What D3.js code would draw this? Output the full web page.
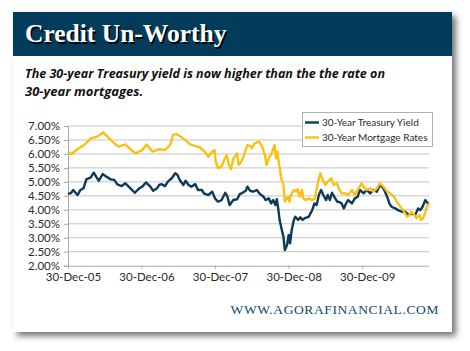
<!DOCTYPE html>
<html>
<head>
<meta charset="utf-8">
<script src="https://cdn.jsdelivr.net/npm/d3@7"></script>
<style>
  body { margin: 0; background: #fff; }
  svg { display: block; }
</style>
</head>
<body>
<div id="chartContainer"></div>
<script>
// chart values
const treasuryDates = ["2005-12-30","2006-01-14","2006-01-25","2006-02-15","2006-03-02","2006-03-17","2006-03-31","2006-04-22","2006-05-07","2006-05-21","2006-06-01","2006-06-20","2006-07-04","2006-07-30","2006-08-17","2006-09-01","2006-09-23","2006-10-11","2006-11-05","2006-11-27","2006-12-19","2007-01-03","2007-01-21","2007-02-12","2007-02-26","2007-03-17","2007-03-28","2007-04-08","2007-04-26","2007-05-10","2007-05-29","2007-06-16","2007-06-27","2007-07-08","2007-07-26","2007-08-06","2007-08-21","2007-09-04","2007-09-23","2007-10-07","2007-10-26","2007-11-05","2007-11-27","2007-12-16","2007-12-30","2008-01-14","2008-02-01","2008-02-19","2008-03-01","2008-03-12","2008-03-30","2008-04-18","2008-05-02","2008-05-13","2008-05-31","2008-06-08","2008-06-22","2008-07-07","2008-07-25","2008-08-09","2008-08-27","2008-09-07","2008-09-22","2008-10-04","2008-10-14","2008-10-25","2008-11-01","2008-11-08","2008-11-15","2008-11-26","2008-12-04","2008-12-11","2008-12-22","2008-12-30","2009-01-06","2009-01-14","2009-01-25","2009-02-01","2009-02-15","2009-02-26","2009-03-09","2009-03-20","2009-04-08","2009-04-26","2009-05-07","2009-05-18","2009-05-29","2009-06-09","2009-06-20","2009-07-04","2009-07-12","2009-07-23","2009-08-02","2009-08-13","2009-08-28","2009-09-04","2009-09-19","2009-09-30","2009-10-11","2009-10-22","2009-11-09","2009-11-24","2009-12-08","2009-12-19","2010-01-06","2010-01-21","2010-02-08","2010-02-23","2010-03-13","2010-03-28","2010-04-15","2010-05-03","2010-05-14","2010-05-25","2010-06-12","2010-06-27","2010-07-15","2010-08-02","2010-08-17","2010-09-01","2010-09-19","2010-10-04","2010-10-15","2010-10-26","2010-11-09","2010-11-20","2010-11-27"];
const treasuryYield = [4.57,4.60,4.71,4.53,4.71,4.77,5.09,5.16,5.33,5.16,5.04,5.28,5.21,5.09,5.07,4.91,4.85,4.95,4.77,4.61,4.77,4.83,4.98,4.83,4.68,4.77,4.89,4.92,4.85,5.01,5.13,5.31,5.25,5.07,4.89,5.04,4.89,4.83,4.92,4.71,4.71,4.59,4.53,4.65,4.41,4.29,4.35,4.61,4.47,4.17,4.35,4.38,4.57,4.60,4.68,4.83,4.68,4.65,4.71,4.57,4.47,4.35,4.41,4.23,4.35,4.17,4.38,4.05,3.64,3.28,3.04,2.56,2.74,3.10,2.80,3.28,3.64,3.75,3.64,3.73,3.64,3.70,3.75,3.99,4.23,4.17,4.53,4.71,4.53,4.35,4.53,4.35,4.61,4.47,4.29,4.29,4.23,4.05,4.23,4.35,4.23,4.41,4.47,4.71,4.59,4.71,4.59,4.71,4.65,4.89,4.77,4.47,4.23,4.11,4.05,3.99,3.93,3.93,3.81,3.87,3.81,4.05,3.99,4.11,4.35,4.23,4.25];

const mortgageDates = ["2005-12-30","2006-01-14","2006-02-15","2006-03-20","2006-04-22","2006-05-25","2006-06-23","2006-07-23","2006-08-17","2006-09-08","2006-10-11","2006-11-05","2006-12-01","2007-01-03","2007-01-25","2007-02-23","2007-03-28","2007-04-26","2007-05-21","2007-06-05","2007-06-23","2007-07-08","2007-08-02","2007-08-28","2007-09-23","2007-10-18","2007-11-09","2007-11-27","2007-12-16","2007-12-27","2008-01-03","2008-01-14","2008-02-01","2008-02-15","2008-02-26","2008-03-08","2008-03-19","2008-03-30","2008-04-18","2008-04-25","2008-05-06","2008-05-20","2008-05-28","2008-06-08","2008-06-22","2008-06-30","2008-07-14","2008-08-05","2008-08-20","2008-09-03","2008-09-11","2008-09-22","2008-10-06","2008-10-21","2008-10-28","2008-11-04","2008-11-12","2008-11-23","2008-12-04","2008-12-11","2008-12-26","2009-01-03","2009-01-10","2009-01-25","2009-02-05","2009-02-12","2009-02-23","2009-03-06","2009-03-13","2009-03-24","2009-04-08","2009-04-26","2009-05-10","2009-05-25","2009-06-05","2009-06-16","2009-07-01","2009-07-12","2009-07-30","2009-08-10","2009-08-28","2009-09-04","2009-09-19","2009-10-07","2009-10-22","2009-11-09","2009-11-24","2009-12-12","2009-12-27","2010-01-06","2010-01-21","2010-02-08","2010-02-23","2010-03-13","2010-03-28","2010-04-15","2010-05-03","2010-05-18","2010-06-05","2010-06-20","2010-07-08","2010-07-22","2010-08-10","2010-08-21","2010-09-01","2010-09-15","2010-09-26","2010-10-11","2010-10-18","2010-10-29","2010-11-09","2010-11-16","2010-11-27"];
const mortgageRate = [6.08,5.99,6.17,6.32,6.56,6.62,6.77,6.56,6.38,6.26,6.34,6.17,6.02,6.14,6.34,6.08,6.17,6.14,6.32,6.68,6.71,6.64,6.52,6.34,6.28,6.23,6.08,5.90,6.08,6.14,5.72,5.49,5.55,5.81,5.96,5.61,5.45,5.84,6.02,5.61,5.69,5.90,6.08,6.32,6.28,6.20,6.38,6.44,6.26,5.96,5.60,5.84,6.02,6.32,5.84,6.08,5.66,5.13,4.89,4.29,4.47,4.29,4.53,4.71,4.65,4.74,4.47,4.71,4.41,4.35,4.41,4.35,4.41,5.01,5.31,5.09,4.89,5.01,5.13,4.89,4.95,4.77,4.59,4.59,4.53,4.71,4.53,4.77,4.95,4.83,4.71,4.77,4.65,4.77,4.95,4.83,4.65,4.59,4.47,4.29,4.11,3.99,3.75,3.81,3.93,3.81,3.70,3.81,3.64,3.70,3.93,4.11,4.23];

const yTicks = [2, 2.5, 3, 3.5, 4, 4.5, 5, 5.5, 6, 6.5, 7];
const xTicks = ["2005-12-30", "2006-12-30", "2007-12-30", "2008-12-30", "2009-12-30"];
const seriesNames = ["30-Year Treasury Yield", "30-Year Mortgage Rates"];
const seriesColors = ["#0c3b59", "#fcc012"];

const parseDate = d3.timeParse("%Y-%m-%d");
const fmtDate = d3.timeFormat("%d-%b-%y");

const svg = d3.select("#chartContainer").append("svg")
    .attr("width", 470)
    .attr("height", 351);

// card shadow
const defs = svg.append("defs");
const shadow = defs.append("filter").attr("id", "cardShadow")
    .attr("x", "-5%").attr("y", "-5%").attr("width", "115%").attr("height", "115%");
shadow.append("feDropShadow")
    .attr("dx", 4).attr("dy", 4).attr("stdDeviation", 3)
    .attr("flood-color", "#000").attr("flood-opacity", 0.55);

svg.append("rect")
    .attr("x", 13).attr("y", 12).attr("width", 439).attr("height", 320)
    .attr("fill", "#fff")
    .attr("filter", "url(#cardShadow)");

svg.append("rect")
    .attr("x", 13).attr("y", 12).attr("width", 439).attr("height", 44)
    .attr("fill", "#033c5b");

// title with a dark drop shadow
const titleStyle = sel => sel
    .attr("font-family", "'Liberation Serif', serif")
    .attr("font-weight", "bold")
    .attr("font-size", 25.5)
    .text("Credit Un-Worthy");
svg.append("text").attr("x", 26.5).attr("y", 43.5).attr("fill", "#000").call(titleStyle);
svg.append("text").attr("x", 25).attr("y", 42).attr("fill", "#fff").call(titleStyle);

const subtitle = svg.append("text")
    .attr("font-family", "'Open Sans', sans-serif")
    .attr("font-weight", "bold")
    .attr("font-style", "italic")
    .attr("font-size", 13)
    .attr("fill", "#111");
subtitle.append("tspan").attr("x", 25).attr("y", 78)
    .attr("textLength", 360).attr("lengthAdjust", "spacingAndGlyphs")
    .text("The 30-year Treasury yield is now higher than the the rate on");
subtitle.append("tspan").attr("x", 25).attr("y", 95.5)
    .text("30-year mortgages.");

// scales
const treasury = treasuryDates.map((d, i) => ({ date: parseDate(d), value: treasuryYield[i] }));
const mortgage = mortgageDates.map((d, i) => ({ date: parseDate(d), value: mortgageRate[i] }));
const allData = treasury.concat(mortgage);

const x = d3.scaleTime()
    .domain(d3.extent(allData, d => d.date))
    .range([68, 429]);
const y = d3.scaleLinear()
    .domain([2, 7])
    .range([265.7, 126]);

// grid
svg.append("g")
    .selectAll("line")
    .data(yTicks.slice(1))
    .enter().append("line")
    .attr("x1", 68).attr("x2", 429)
    .attr("y1", d => y(d)).attr("y2", d => y(d))
    .attr("stroke", "#c4c4c4")
    .attr("stroke-width", 1);

const yAxis = svg.append("g")
    .attr("transform", "translate(68,0)")
    .call(d3.axisLeft(y).tickValues(yTicks).tickSize(4).tickPadding(4)
        .tickFormat(d => d3.format(".2f")(d) + "%"));

const xAxis = svg.append("g")
    .attr("transform", `translate(0,${y(2)})`)
    .call(d3.axisBottom(x).tickValues(xTicks.map(parseDate)).tickSize(3).tickPadding(4)
        .tickFormat(fmtDate));
xAxis.select(".domain").attr("d", `M68,0.5H429`);
xAxis.selectAll(".tick text").attr("dx", 5);

[yAxis, xAxis].forEach(ax => {
    ax.select(".domain").attr("stroke", "#a8a8a8");
    ax.selectAll(".tick line").attr("stroke", "#a8a8a8");
    ax.selectAll("text")
        .attr("font-family", "Lato, sans-serif")
        .attr("font-size", 11.5)
        .attr("fill", "#2a2a2a");
});

// lines
const lineFunction = d3.line()
    .x(d => x(d.date))
    .y(d => y(d.value));

[treasury, mortgage].forEach((data, i) => {
    svg.append("path")
        .datum(data)
        .attr("d", lineFunction)
        .attr("fill", "none")
        .attr("stroke", seriesColors[i])
        .attr("stroke-width", 2.4)
        .attr("stroke-linejoin", "round");
});

// legend
const legend = svg.append("g").attr("transform", "translate(302,112)");
legend.append("rect")
    .attr("x", 0.5).attr("y", 0.5).attr("width", 130).attr("height", 34)
    .attr("fill", "#fff").attr("stroke", "#b0b0b0");
seriesNames.forEach((name, i) => {
    const row = legend.append("g").attr("transform", `translate(0,${10.5 + i * 15})`);
    row.append("line")
        .attr("x1", 3).attr("x2", 17)
        .attr("stroke", seriesColors[i]).attr("stroke-width", 2.4);
    row.append("text")
        .attr("x", 20).attr("y", 3.6)
        .attr("font-family", "Lato, sans-serif")
        .attr("font-size", 10)
        .attr("fill", "#2a2a2a")
        .text(name);
});

// footer
svg.append("text")
    .attr("x", 439).attr("y", 314)
    .attr("text-anchor", "end")
    .attr("font-family", "'Liberation Serif', serif")
    .attr("font-size", 13.5)
    .attr("letter-spacing", 0.6)
    .attr("fill", "#0f4a6c")
    .text("WWW.AGORAFINANCIAL.COM");
</script>
</body>
</html>
